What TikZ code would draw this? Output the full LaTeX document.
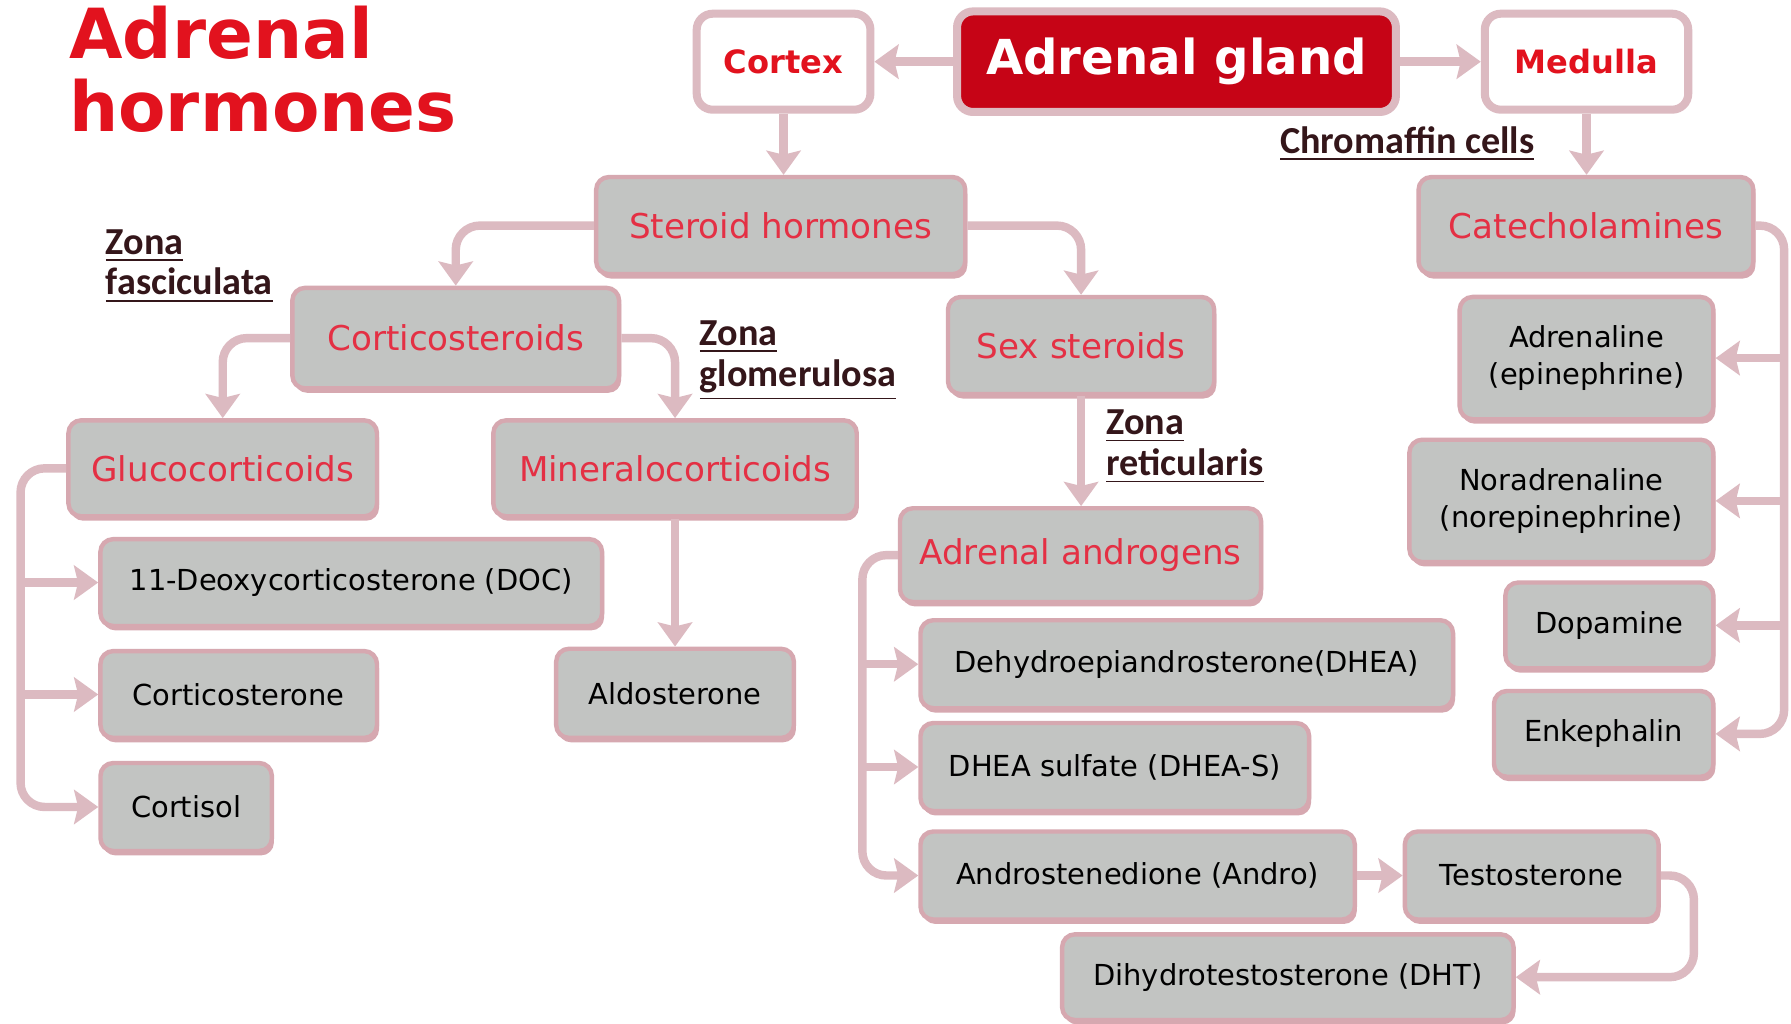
\documentclass[tikz,border=0pt]{standalone}
\usepackage{fontspec}
\setmainfont{DejaVu Sans}
\newfontfamily\zonefont{Carlito}
\usetikzlibrary{arrows.meta,shadows}
\definecolor{boxfill}{RGB}{194,196,194}
\definecolor{boxedge}{RGB}{214,168,176}
\definecolor{conncol}{RGB}{220,186,193}
\definecolor{redtxt}{RGB}{228,48,68}
\definecolor{titlered}{RGB}{226,18,30}
\definecolor{glandred}{RGB}{198,4,22}
\definecolor{zonetxt}{RGB}{52,22,26}
\begin{document}
\begin{tikzpicture}[x=0.01cm, y=-0.01cm,
 box/.style={draw=boxedge, line width=1.1pt, fill=boxfill, rounded corners=3.2pt, inner sep=0pt, align=center,
   drop shadow={shadow xshift=0.5pt, shadow yshift=-1.1pt, fill=boxedge, opacity=1}},
 redbox/.style={box, text=redtxt, font=\fontsize{8.5}{10}\selectfont},
 blackbox/.style={box, text=black, font=\fontsize{7.2}{9.2}\selectfont},
 topbox/.style={draw=conncol, line width=2pt, fill=white, rounded corners=4pt, text=titlered,
   font=\bfseries\fontsize{8}{10}\selectfont, inner sep=0pt},
 conn/.style={draw=conncol, line width=2.1pt, -{Stealth[length=6pt,width=8.5pt,inset=1pt]}, rounded corners=6pt},
 zone/.style={text=zonetxt, font=\zonefont\bfseries\fontsize{9.5}{10.2}\selectfont, align=left, inner sep=0pt},
 titletext/.style={anchor=base west, text=titlered, font=\bfseries\fontsize{17.2}{19}\selectfont, inner sep=0pt}
]
\useasboundingbox (0,0) rectangle (1568,896);
\fill[white] (0,0) rectangle (1568,896);

% title
\node[titletext] (title1) at (60,51) {Adrenal};
\node[titletext] (title2) at (60,115) {hormones};

% top row
\node[topbox, minimum width=1.52cm, minimum height=0.84cm] (cortex) at (686,54) {Cortex};
\node[draw=conncol, line width=2pt, fill=glandred, rounded corners=4pt, inner sep=0pt,
      minimum width=3.84cm, minimum height=0.88cm, text=white,
      font=\bfseries\fontsize{12}{14}\selectfont] (gland) at (1030,54) {Adrenal gland};
\node[topbox, minimum width=1.78cm, minimum height=0.84cm] (medulla) at (1389,54) {Medulla};

% cortex side
\node[redbox, minimum width=3.23cm, minimum height=0.85cm] (steroid) at (683.5,197.5) {Steroid hormones};
\node[redbox, minimum width=2.86cm, minimum height=0.88cm] (cortico) at (399,296) {Corticosteroids};
\node[redbox, minimum width=2.33cm, minimum height=0.85cm] (sex) at (946.5,302.5) {Sex steroids};
\node[redbox, minimum width=2.70cm, minimum height=0.84cm] (gluco) at (195,410) {Glucocorticoids};
\node[redbox, minimum width=3.18cm, minimum height=0.84cm] (mineral) at (591,410) {Mineralocorticoids};
\node[blackbox, minimum width=4.39cm, minimum height=0.76cm] (doc) at (307.5,510) {11-Deoxycorticosterone (DOC)};
\node[blackbox, minimum width=2.42cm, minimum height=0.76cm] (cstone) at (209,608) {Corticosterone};
\node[blackbox, minimum width=1.50cm, minimum height=0.77cm] (cortisol) at (163,706.5) {Cortisol};
\node[blackbox, minimum width=2.08cm, minimum height=0.78cm] (aldo) at (591,607) {Aldosterone};
\node[redbox, minimum width=3.16cm, minimum height=0.82cm] (androgens) at (946,486) {Adrenal androgens};
\node[blackbox, minimum width=4.66cm, minimum height=0.77cm] (dhea) at (1039,581.5) {Dehydroepiandrosterone(DHEA)};
\node[blackbox, minimum width=3.40cm, minimum height=0.77cm] (dheas) at (976,671.5) {DHEA sulfate (DHEA-S)};
\node[blackbox, minimum width=3.80cm, minimum height=0.77cm] (andro) at (996,766.5) {Androstenedione (Andro)};
\node[blackbox, minimum width=2.22cm, minimum height=0.77cm] (testo) at (1341,766.5) {Testosterone};
\node[blackbox, minimum width=3.95cm, minimum height=0.75cm] (dht) at (1127.5,855.5) {Dihydrotestosterone (DHT)};

% medulla side
\node[redbox, minimum width=2.93cm, minimum height=0.85cm] (catechol) at (1388.5,197.5) {Catecholamines};
\node[blackbox, minimum width=2.22cm, minimum height=1.07cm] (adren) at (1389,313.5) {Adrenaline\\(epinephrine)};
\node[blackbox, minimum width=2.66cm, minimum height=1.07cm] (noradr) at (1367,438.5) {Noradrenaline\\(norepinephrine)};
\node[blackbox, minimum width=1.82cm, minimum height=0.75cm] (dopa) at (1409,547.5) {Dopamine};
\node[blackbox, minimum width=1.92cm, minimum height=0.75cm] (enk) at (1404,642.5) {Enkephalin};

% zone labels
\node[zone] (chrom) at (1232,126) {\underline{Chromaffin cells}};
\node[zone, anchor=north west] (zfasc) at (92,200) {\underline{Zona}\\\underline{fasciculata}};
\node[zone, anchor=north west] (zglom) at (612,280) {\underline{Zona}\\\underline{glomerulosa}};
\node[zone, anchor=north west] (zret) at (968,358) {\underline{Zona}\\\underline{reticularis}};

% connectors
\draw[conn] (gland.west) -- (cortex.east);
\draw[conn] (gland.east) -- (medulla.west);
\draw[conn] (cortex.south) -- (cortex.south |- steroid.north);
\draw[conn] (medulla.south) -- (medulla.south |- catechol.north);
\draw[conn] (steroid.west) -| (cortico.north);
\draw[conn] (steroid.east) -| (sex.north);
\draw[conn] (cortico.west) -| (gluco.north);
\draw[conn] (cortico.east) -| (mineral.north);
\draw[conn] (mineral.south) -- (mineral.south |- aldo.north);
\draw[conn] (sex.south) -- (sex.south |- androgens.north);

\coordinate (gbus) at (18,0);
\draw[conn] (gluco.west) -| (gbus |- cortisol.west) -- (cortisol.west);
\draw[conn] (gbus |- doc.west) -- (doc.west);
\draw[conn] (gbus |- cstone.west) -- (cstone.west);

\coordinate (abus) at (755,0);
\draw[conn] (androgens.west) -| (abus |- andro.west) -- (andro.west);
\draw[conn] (abus |- dhea.west) -- (dhea.west);
\draw[conn] (abus |- dheas.west) -- (dheas.west);

\draw[conn] (andro.east) -- (testo.west);
\coordinate (tbus) at (1483,0);
\draw[conn] (testo.east) -| (tbus |- dht.east) -- (dht.east);

\coordinate (cbus) at (1562,0);
\draw[conn] (catechol.east) -| (cbus |- enk.east) -- (enk.east);
\draw[conn] (cbus |- adren.east) -- (adren.east);
\draw[conn] (cbus |- noradr.east) -- (noradr.east);
\draw[conn] (cbus |- dopa.east) -- (dopa.east);
\end{tikzpicture}
\end{document}
